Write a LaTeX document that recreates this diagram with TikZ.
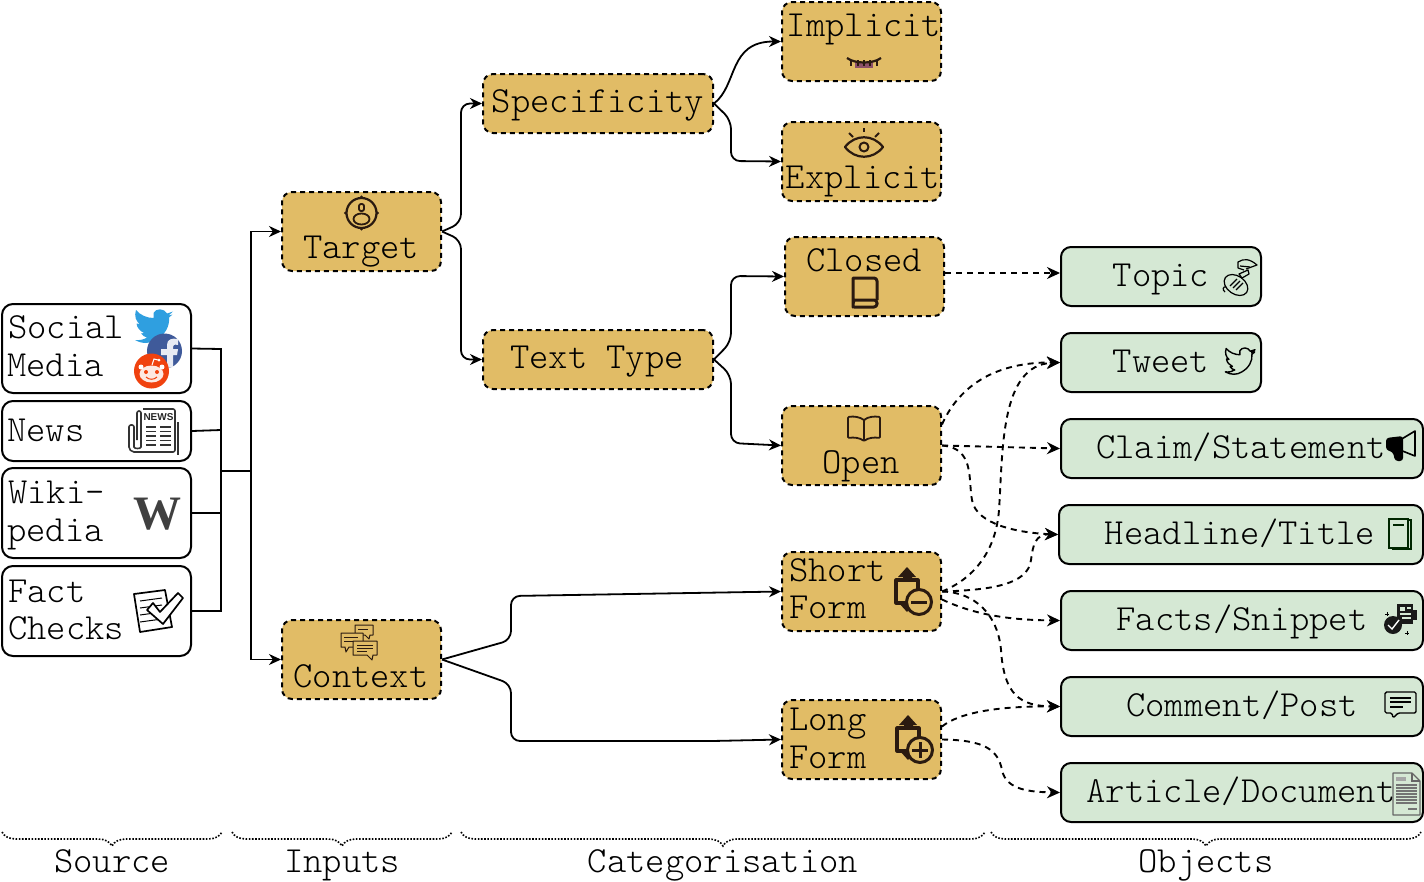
\documentclass[tikz,border=0pt]{standalone}
\usepackage{fontspec}
\usetikzlibrary{arrows.meta,decorations.pathreplacing}
\newfontfamily\diagfont{Latin Modern Mono Light}
\newfontfamily\iconfont{Liberation Serif}
\newfontfamily\newsfont{Liberation Sans}
\definecolor{goldfill}{HTML}{E1BC66}
\definecolor{greenfill}{HTML}{D5E8D4}
\definecolor{iconink}{HTML}{2A1A10}
\definecolor{twblue}{HTML}{2F9FE0}
\definecolor{fbblue}{HTML}{3F5A9A}
\definecolor{rdorange}{HTML}{F0420F}
\newcommand{\birdpath}{(173,311.5) -- (167,313.5) .. controls (164,308) and (156,308) .. (153.5,313) .. controls (153,315) and (153,316) .. (153.5,318) .. controls (147,318) and (140,315) .. (136,310) .. controls (134,316) and (136,321) .. (139.5,324) -- (136.5,323.5) .. controls (137,328) and (140,331) .. (144,333) -- (141,333.5) .. controls (143,336) and (145,337) .. (147,337.5) .. controls (144,339.5) and (140,340.5) .. (135,340) .. controls (142,344) and (150,344) .. (156,340) .. controls (165,335) and (170,326) .. (169,317.5) -- (172.5,314.5) -- (168.5,315.5) -- cycle}
\tikzset{
  goldbox/.style={draw,fill=goldfill,dashed,dash pattern=on 5pt off 4pt,line width=2pt,rounded corners=10pt,
    minimum width=159pt,minimum height=79pt,inner sep=0pt},
  greenbox/.style={draw,fill=greenfill,line width=2pt,rounded corners=10pt,minimum height=59pt,inner sep=0pt},
  whitebox/.style={draw,fill=white,line width=2pt,rounded corners=11pt,minimum width=189pt,inner sep=0pt},
  lbl/.style={anchor=base,inner sep=0pt,font=\diagfont\fontsize{36.8}{36.8}\selectfont},
  lblw/.style={lbl,anchor=base west},
  conn/.style={-{Stealth[length=12pt,width=11pt]},line width=1.8pt,rounded corners=9pt},
  dashconn/.style={-{Stealth[length=13pt,width=12pt]},line width=1.9pt,dash pattern=on 6pt off 5pt},
  srcline/.style={line width=1.8pt},
  bracedot/.style={line width=1.6pt,dash pattern=on 1.6pt off 1.6pt,decorate,
    decoration={brace,mirror,amplitude=14pt}},
  iconline/.style={draw=iconink,line width=1.8pt,line join=round},
  pics/formdoc/.style={code={
    \fill[iconink] (-1,-25) -- (-10,-15) -- (-5,-15) -- (-5,-10) -- (4,-10) -- (4,-15) -- (8,-15) -- cycle;
    \fill[iconink] (-1,20) -- (-10,10) -- (-5,10) -- (-5,5) -- (4,5) -- (4,10) -- (8,10) -- cycle;
    \draw[iconink,line width=3.2pt,fill=goldfill,line join=round] (-12,-12) rectangle (10,11);
    \draw[iconink,line width=3pt,fill=goldfill] (11,10) circle (12.5);
    \draw[iconink,line width=3pt] (3,10) -- (19,10);
    #1
  }},
}

\begin{document}
\begin{tikzpicture}[x=1pt,y=-1pt]
  \useasboundingbox (0,0) rectangle (1424,881);

  % source boxes
  \node[whitebox,minimum height=89pt] (social) at (96.5,348.5) {};
  \node[whitebox,minimum height=60pt] (news) at (96.5,431) {};
  \node[whitebox,minimum height=90pt] (wiki) at (96.5,513) {};
  \node[whitebox,minimum height=90pt] (fact) at (96.5,611) {};
  \node[lblw] (sociallabel) at (8,338) {Social};
  \node[lblw] (medialabel) at (7,376.5) {Media};
  \node[lblw] (newslabel) at (7,441) {News};
  \node[lblw] (wikilabel) at (8,503) {Wiki-};
  \node[lblw] (pedialabel) at (7,541) {pedia};
  \node[lblw] (factlabel) at (8,602) {Fact};
  \node[lblw] (checkslabel) at (8,639.5) {Checks};

  % gold boxes
  \node[goldbox] (target) at (361.5,231.5) {};
  \node[goldbox] (context) at (361.5,659.5) {};
  \node[goldbox,minimum width=230pt,minimum height=59pt] (specificity) at (598,103.5) {};
  \node[goldbox,minimum width=230pt,minimum height=59pt] (texttype) at (598,359.5) {};
  \node[goldbox] (implicit) at (861.5,41.5) {};
  \node[goldbox] (explicit) at (861.5,161.5) {};
  \node[goldbox] (closed) at (864.5,276.5) {};
  \node[goldbox] (open) at (861.5,445.5) {};
  \node[goldbox] (short) at (861.5,591.5) {};
  \node[goldbox] (long) at (861.5,739.5) {};
  \node[lbl] (targetlabel) at (361,258) {Target};
  \node[lbl] (contextlabel) at (361,687) {Context};
  \node[lbl] (specificitylabel) at (598,112) {Specificity};
  \node[lbl] (texttypelabel) at (597,368.5) {Text Type};
  \node[lbl] (implicitlabel) at (864,36) {Implicit};
  \node[lbl] (explicitlabel) at (863,188) {Explicit};
  \node[lbl] (closedlabel) at (864,271) {Closed};
  \node[lbl] (openlabel) at (861,473) {Open};
  \node[lblw] (shortlabel) at (789,581) {Short};
  \node[lblw] (shortformlabel) at (789,618.5) {Form};
  \node[lblw] (longlabel) at (789,730) {Long};
  \node[lblw] (longformlabel) at (789,768) {Form};

  % green boxes
  \node[greenbox,minimum width=200pt] (topic) at (1161,276.5) {};
  \node[greenbox,minimum width=200pt] (tweet) at (1161,362.5) {};
  \node[greenbox,minimum width=362pt] (claim) at (1242,448.5) {};
  \node[greenbox,minimum width=364pt] (headline) at (1241,534.5) {};
  \node[greenbox,minimum width=362pt] (facts) at (1242,620.5) {};
  \node[greenbox,minimum width=362pt] (comment) at (1242,706.5) {};
  \node[greenbox,minimum width=362pt] (article) at (1242,792.5) {};
  \node[lbl] (topiclabel) at (1161,286) {Topic};
  \node[lbl] (tweetlabel) at (1161,372) {Tweet};
  \node[lbl] (claimlabel) at (1241,458) {Claim/Statement};
  \node[lbl] (headlinelabel) at (1240,544) {Headline/Title};
  \node[lbl] (factslabel) at (1242,630) {Facts/Snippet};
  \node[lbl] (commentlabel) at (1242,716) {Comment/Post};
  \node[lbl] (articlelabel) at (1241,802) {Article/Document};

  % source lines
  \coordinate (srcjoin) at (221,471);
  \coordinate (srcfork) at (251,471);
  \draw[srcline] (social.east) -- (221,349) -- (srcjoin);
  \draw[srcline] (news.east) -- (221,430);
  \draw[srcline] (wiki.east) -- (221,513);
  \draw[srcline] (fact.east) -- (221,611) -- (srcjoin);
  \draw[line width=2.8pt] (srcjoin) -- (srcfork);
  \draw[conn,rounded corners=0pt] (srcfork) -- (251,231.5) -- (target.west);
  \draw[conn,rounded corners=0pt] (srcfork) -- (251,659.5) -- (context.west);

  % solid connectors
  \draw[conn] (target.east) -- (461,223) -- (461,103.5) -- (specificity.west);
  \draw[conn] (target.east) -- (461,240) -- (461,359.5) -- (texttype.west);
  \draw[conn] (specificity.east) .. controls (738,85) and (728,41.5) .. (implicit.west);
  \draw[conn] (specificity.east) -- (731,120) -- (731,161) -- (explicit.west);
  \draw[conn] (texttype.east) -- (731,342) -- (731,276) -- (closed.west);
  \draw[conn] (texttype.east) -- (731,375) -- (731,443) -- (open.west);
  \draw[conn] (context.east) -- (511,640) -- (511,596) -- (short.west);
  \draw[conn] (context.east) -- (511,684) -- (511,741) -- (713,741) -- (long.west);

  % dashed connectors
  \draw[dashconn] ([yshift=3.5pt]closed.east) -- ([yshift=3.5pt]topic.west);
  \draw[dashconn] ([yshift=21pt]open.east) .. controls (955,395) and (985,362) .. (tweet.west);
  \draw[dashconn] (open.east) -- (claim.west);
  \draw[dashconn] (open.east) .. controls (975,448) and (968,480) .. (972,500) .. controls (976,525) and (1020,533) .. (headline.west);
  \draw[dashconn] (short.east) .. controls (975,578) and (996,550) .. (999,510) .. controls (1003,450) and (1000,365) .. (tweet.west);
  \draw[dashconn] (short.east) .. controls (990,590) and (1028,585) .. (1031,560) .. controls (1033,545) and (1035,534) .. (headline.west);
  \draw[dashconn] ([yshift=-8pt]short.east) .. controls (975,615) and (1010,620) .. (facts.west);
  \draw[dashconn] (short.east) .. controls (975,592) and (998,615) .. (1001,650) .. controls (1004,695) and (1020,706) .. (comment.west);
  \draw[dashconn] ([yshift=13pt]long.east) .. controls (960,712) and (1000,706) .. (comment.west);
  \draw[dashconn] (long.east) .. controls (985,740) and (998,750) .. (1002,770) .. controls (1006,790) and (1030,792) .. (article.west);

  % braces
  \coordinate (srcl) at (2,832);
  \coordinate (srcr) at (222,832);
  \coordinate (inpl) at (232,832);
  \coordinate (inpr) at (452,832);
  \coordinate (catl) at (461,832);
  \coordinate (catr) at (985,832);
  \coordinate (objl) at (991,832);
  \coordinate (objr) at (1421,832);
  \draw[bracedot] (srcl) -- (srcr);
  \draw[bracedot] (inpl) -- (inpr);
  \draw[bracedot] (catl) -- (catr);
  \draw[bracedot] (objl) -- (objr);
  \node[lbl] (sourcelabel) at (112,872) {Source};
  \node[lbl] (inputslabel) at (342,872) {Inputs};
  \node[lbl] (categorisationlabel) at (723,872) {Categorisation};
  \node[lbl] (objectslabel) at (1206,872) {Objects};

  % social icons
  \fill[twblue] \birdpath;
  \fill[fbblue] (164.5,351) circle (17.5);
  \fill[white!88!fbblue] (167,368) -- (167,355) -- (161,355) -- (161,349) -- (167,349) -- (167,345) .. controls (167,339) and (172,338) .. (178,339) -- (178,345) .. controls (174,344) and (173,345) .. (173,347) -- (173,349) -- (178,349) -- (177,355) -- (173,355) -- (173,367) -- cycle;
  \fill[rdorange] (151.5,371) circle (17.5);
  \fill[white!88!rdorange] (151.5,374) ellipse (12 and 8.5);
  \fill[rdorange] (146,372) circle (2);
  \fill[rdorange] (157,372) circle (2);
  \draw[rdorange,line width=1pt] (146,377) .. controls (149,380) and (154,380) .. (157,377);
  \draw[white,line width=1pt] (152,365) -- (154,359) -- (158,360);
  \fill[white] (159,360) circle (1.5);
  \fill[white] (141,367) circle (2.5);
  \fill[white] (162,367) circle (2.5);

  % newspaper
  \draw[draw=black!80,line width=1.6pt,rounded corners=2pt] (143,409) -- (175,409) -- (175,448) .. controls (175,451) and (174,452) .. (171,452) -- (136,452) .. controls (131,452) and (129,449) .. (129,445) -- (129,425) -- (134,425) -- (134,445) .. controls (134,449) and (141,449) .. (141,445) -- (141,411) -- (137,411) -- (137,440);
  \draw[black!80,line width=1.6pt] (178,422) -- (178,455);
  \node[inner sep=0pt,font=\newsfont\bfseries\fontsize{10}{10}\selectfont,text=black!85] (newsword) at (158.5,417.5) {NEWS};
  \foreach \yy in {427,431.5,436,440.5,445}{
    \draw[black!80,line width=1.8pt] (146,\yy) -- (156,\yy);
    \draw[black!80,line width=1.8pt] (160,\yy) -- (171,\yy);
  }

  % wikipedia
  \node[inner sep=0pt,font=\iconfont\bfseries\fontsize{48}{48}\selectfont,text=black!75,anchor=base] (wikiw) at (157,529) {W};

  % fact check
  \draw[fill=white,line width=1.7pt,line join=round] (134,594) -- (165,590) -- (172,627) -- (140,632) -- cycle;
  \foreach \yy in {0,7,14,21}{
    \draw[line width=1pt] (140,601+\yy) -- (162,598+\yy);
  }
  \draw[fill=white,line width=1.7pt,line join=round] (147,610) -- (153,603) -- (160,612) -- (178,593) -- (183,598) -- (163,624) -- cycle;

  % implicit eye
  \fill[magenta!40!iconink] (855,62) rectangle (873,68);
  \draw[iconline,line width=2.2pt] (847,58) .. controls (855,64) and (873,64) .. (881,58);
  \foreach \xx in {851,858,864,870,877}{
    \draw[iconline,line width=1.2pt] (\xx,60) -- (\xx,66);
  }

  % explicit eye
  \draw[iconline,line width=2.2pt] (845,147) .. controls (855,134) and (873,134) .. (883,147) .. controls (873,160) and (855,160) .. (845,147) -- cycle;
  \draw[iconline,line width=2pt] (864,147) circle (4.5);
  \draw[iconline] (864,128) -- (864,132);
  \draw[iconline] (849,133) -- (853,137);
  \draw[iconline] (879,133) -- (875,137);

  % target icon
  \draw[iconline,line width=2.2pt] (361.5,213) circle (15);
  \draw[iconline,rounded corners=2pt] (359,204) rectangle (364,211);
  \draw[iconline] (361.5,219) ellipse (8 and 5.5);
  \fill[iconink] (361.5,197) circle (1.7);
  \fill[iconink] (361.5,229) circle (1.7);
  \fill[iconink] (345.5,213) circle (1.7);
  \fill[iconink] (377.5,213) circle (1.7);

  % closed book
  \draw[iconline,line width=3pt,rounded corners=3pt] (877,300) -- (877,278) -- (856,278) .. controls (853,278) and (853,280) .. (853,282) -- (853,304) .. controls (853,306) and (855,307) .. (857,307) -- (877,307) -- (877,300) -- (857,300) .. controls (855,300) and (853,301) .. (853,304);

  % open book
  \draw[iconline,rounded corners=1pt] (864,420) .. controls (860,417) and (854,416) .. (848,417) -- (848,438) .. controls (854,437) and (860,438) .. (864,441) .. controls (868,438) and (874,437) .. (880,438) -- (880,417) .. controls (874,416) and (868,417) .. (864,420) -- (864,441);

  % chat bubbles
  \begin{scope}[iconline,fill=goldfill,line width=1pt]
    \draw[fill=goldfill] (355,625) -- (373,625) -- (373,635) -- (370,635) -- (369,639) -- (365,635) -- (355,635) -- cycle;
    \draw[fill=goldfill] (341,633) -- (363,633) -- (363,647) -- (349,647) -- (346,652) -- (345,647) -- (341,647) -- cycle;
    \draw[fill=goldfill] (353,641) -- (377,641) -- (377,655) -- (373,655) -- (372,660) -- (367,655) -- (353,655) -- cycle;
    \draw (358,629) -- (368,629);
    \draw (344,637) -- (358,637);
    \draw (344,641) -- (353,641);
    \draw (357,645) -- (373,645);
    \draw (357,648) -- (373,648);
    \draw (357,651) -- (367,651);
  \end{scope}

  % short and long form icons
  \pic (shortdoc) at (908,592) {formdoc={}};
  \pic (longdoc) at (909,740) {formdoc={\draw[iconink,line width=3pt] (11,2) -- (11,18);}};

  % topic icon
  \begin{scope}[line width=1.2pt,line join=round]
    \draw[fill=greenfill,rotate around={-35:(1236,285)}] (1236,285) ellipse (13 and 9);
    \draw (1225,292) .. controls (1222,290) and (1223,286) .. (1226,287);
    \draw (1233,288) -- (1240,281);
    \draw (1236,290) -- (1243,283);
    \draw (1230,286) -- (1237,279);
    \draw[fill=greenfill] (1239,274) -- (1248,270) -- (1249,274) -- (1242,278) -- cycle;
    \draw (1244,270) -- (1238,268) -- (1238,262) .. controls (1244,258) and (1250,259) .. (1257,265) -- (1246,269);
    \draw (1240,266) -- (1250,267);
  \end{scope}

  % tweet icon
  \begin{scope}[shift={(1120.1,106.7)},scale=.78]
    \draw[fill=greenfill,line width=1.4pt,line join=round] \birdpath;
  \end{scope}

  % claim icon
  \draw[line width=1.6pt,line join=round] (1400,440) -- (1415,431) -- (1415,456) -- (1400,450);
  \fill[rounded corners=3pt] (1386,438) -- (1403,436) -- (1403,461) -- (1395,461) -- (1393,452) -- (1386,450) -- cycle;

  % headline icon
  \draw[line width=1.6pt,draw=green!15!black] (1389,519) rectangle (1408,548);
  \draw[line width=1.6pt,draw=green!15!black] (1393,525) -- (1404,525);
  \draw[line width=1.6pt,draw=green!15!black] (1408,520) -- (1411,520) -- (1411,549) -- (1392,549);

  % facts icon
  \fill[black!90] (1397,604) rectangle (1413,624);
  \fill[black!90] (1413,610) rectangle (1417,620);
  \fill[greenfill] (1400,607) rectangle (1405,611);
  \fill[greenfill] (1407,607) rectangle (1411,608.5);
  \fill[greenfill] (1400,613) rectangle (1411,614.5);
  \fill[greenfill] (1402,617) rectangle (1411,618.5);
  \fill[black!90] (1393,625) circle (9);
  \draw[white,line width=1.4pt] (1388,625) -- (1392,629) -- (1399,620);
  \draw[line width=.7pt] (1385,614) -- (1389,614) (1387,612) -- (1387,616);
  \draw[line width=.7pt] (1405,633) -- (1409,633) (1407,631) -- (1407,635);

  % comment icon
  \draw[line width=1.4pt,line join=round,rounded corners=1.5pt] (1385,692) -- (1416,692) -- (1416,713) -- (1398,713) -- (1393,718) -- (1392,713) -- (1385,713) -- cycle;
  \draw[line width=1.1pt] (1390,698) -- (1411,698) (1390,702) -- (1411,702) (1390,707) -- (1403,707);

  % article icon
  \draw[fill=greenfill,draw=black!60,line width=1.1pt,line join=round] (1393,773) -- (1412,773) -- (1420,781) -- (1420,815) -- (1393,815) -- cycle;
  \draw[draw=black!60,line width=1.1pt] (1412,773) -- (1412,781) -- (1420,781);
  \fill[black!35] (1396,777) rectangle (1406,781);
  \foreach \yy in {785,788,791,794,797,800,803}{
    \draw[black!55,line width=1.1pt] (1396,\yy) -- (1417,\yy);
  }
  \draw[black!55,line width=1.1pt] (1408,809) -- (1417,809);
\end{tikzpicture}
\end{document}
